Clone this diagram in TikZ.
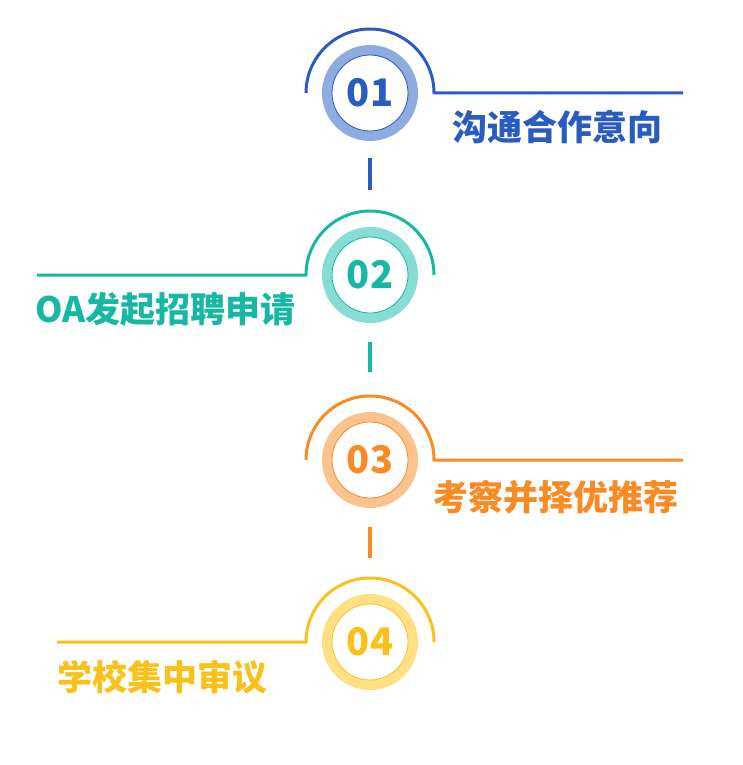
\documentclass[tikz,border=0pt]{standalone}
\usepackage{fontspec}
\newfontfamily\cjk{Noto Sans CJK SC}
\definecolor{bD}{HTML}{2A5BC0}
\definecolor{bL}{HTML}{8FACE0}
\definecolor{tD}{HTML}{16B8A4}
\definecolor{tL}{HTML}{86DDD3}
\definecolor{oD}{HTML}{FA8A23}
\definecolor{oL}{HTML}{FDC38E}
\definecolor{yD}{HTML}{FAC11A}
\definecolor{yL}{HTML}{FFE083}
\tikzset{
  ring/.style={line width=10pt},
  thinring/.style={line width=0.8pt},
  arcline/.style={line width=3pt},
  dashbar/.style={line width=4.5pt},
  numtxt/.style={font=\cjk\bfseries\fontsize{38}{38}\selectfont, inner sep=0pt},
  lbl/.style={font=\cjk\bfseries\fontsize{35}{35}\selectfont, inner sep=0pt},
}
\begin{document}
\begin{tikzpicture}[x=1pt,y=-1pt]
\useasboundingbox (0,0) rectangle (742,765);
% ---------- step 01 ----------
\coordinate (c1) at (370,93);
\draw[bL,ring] (c1) circle[radius=43];
\draw[bD,thinring] (c1) circle[radius=38];
\node[numtxt,text=bD] (n1) at (c1) {01};
\coordinate (a1s) at (306,93);
\coordinate (l1e) at (683,93);
\draw[bD,arcline] (a1s) arc[start angle=-180,end angle=0,radius=64] -- (l1e);
\node[lbl,text=bD,anchor=west] (t1) at (452,127) {沟通合作意向};
\coordinate (d1a) at (370,158);
\coordinate (d1b) at (370,190);
\draw[bD,dashbar] (d1a) -- (d1b);
% ---------- step 02 ----------
\coordinate (c2) at (370,275);
\draw[tL,ring] (c2) circle[radius=43];
\draw[tD,thinring] (c2) circle[radius=38];
\node[numtxt,text=tD] (n2) at (c2) {02};
\coordinate (l2s) at (37,275);
\coordinate (a2s) at (306,275);
\draw[tD,arcline] (l2s) -- (a2s) arc[start angle=-180,end angle=0,radius=64];
\node[lbl,text=tD,anchor=west] (t2) at (35,309) {OA发起招聘申请};
\coordinate (d2a) at (370,342);
\coordinate (d2b) at (370,372);
\draw[tD,dashbar] (d2a) -- (d2b);
% ---------- step 03 ----------
\coordinate (c3) at (370,460);
\draw[oL,ring] (c3) circle[radius=43];
\draw[oD,thinring] (c3) circle[radius=38];
\node[numtxt,text=oD] (n3) at (c3) {03};
\coordinate (a3s) at (306,460);
\coordinate (l3e) at (683,460);
\draw[oD,arcline] (a3s) arc[start angle=-180,end angle=0,radius=64] -- (l3e);
\node[lbl,text=oD,anchor=west] (t3) at (433,497) {考察并择优推荐};
\coordinate (d3a) at (370,527);
\coordinate (d3b) at (370,558);
\draw[oD,dashbar] (d3a) -- (d3b);
% ---------- step 04 ----------
\coordinate (c4) at (370,642);
\draw[yL,ring] (c4) circle[radius=43];
\draw[yD,thinring] (c4) circle[radius=38];
\node[numtxt,text=yD] (n4) at (c4) {04};
\coordinate (l4s) at (57,642);
\coordinate (a4s) at (306,642);
\draw[yD,arcline] (l4s) -- (a4s) arc[start angle=-180,end angle=0,radius=64];
\node[lbl,text=yD,anchor=west] (t4) at (57,677) {学校集中审议};
\end{tikzpicture}
\end{document}
